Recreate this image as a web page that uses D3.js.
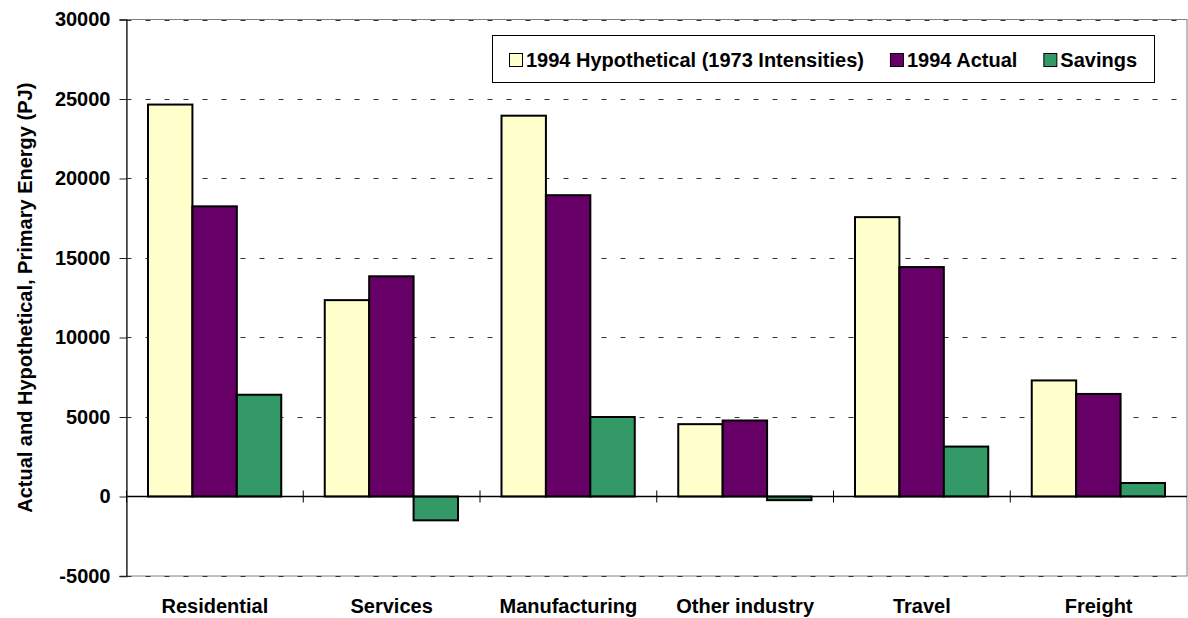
<!DOCTYPE html>
<html>
<head>
<meta charset="utf-8">
<script src="https://cdn.jsdelivr.net/npm/d3@7"></script>
<style>
  body { margin: 0; background: #fff; }
  text { font-family: "Liberation Sans", Arial, sans-serif; font-weight: bold; fill: #000; }
</style>
</head>
<body>
<div id="chart"></div>
<script>
// data (PJ)
const categories = ["Residential", "Services", "Manufacturing", "Other industry", "Travel", "Freight"];
const seriesNames = ["1994 Hypothetical (1973 Intensities)", "1994 Actual", "Savings"];
const hypothetical = [24650, 12350, 23950, 4550, 17570, 7300];
const actual = [18250, 13850, 18950, 4780, 14430, 6450];
const savings = [6400, -1500, 5000, -230, 3140, 850];
const yTicks = [-5000, 0, 5000, 10000, 15000, 20000, 25000, 30000];

const colors = ["#FFFFCC", "#660066", "#339966"];
const W = 1188, H = 618;
const plot = {left: 126.5, right: 1187, top: 19.5, bottom: 576};

const svg = d3.select("#chart").append("svg")
  .attr("width", W).attr("height", H);

const x0 = d3.scaleBand().domain(categories).range([plot.left, plot.right]);
const x1 = d3.scaleBand().domain(seriesNames).range([21.5, x0.bandwidth() - 22]);
const y = d3.scaleLinear().domain([-5000, 30000]).range([plot.bottom, plot.top]);

// plot area frame
svg.append("rect")
  .attr("x", plot.left).attr("y", plot.top)
  .attr("width", plot.right - plot.left).attr("height", plot.bottom - plot.top)
  .attr("fill", "none").attr("stroke", "#808080").attr("stroke-width", 1);

// dashed gridlines
svg.append("g")
  .selectAll("line")
  .data(yTicks.filter(d => d !== 0))
  .enter().append("line")
    .attr("x1", plot.left).attr("x2", plot.right)
    .attr("y1", d => Math.round(y(d)) + 0.5).attr("y2", d => Math.round(y(d)) + 0.5)
    .attr("stroke", "#333").attr("stroke-width", 1)
    .attr("stroke-dasharray", "5,14");

// y axis
const yAxis = svg.append("g")
  .attr("transform", "translate(" + plot.left + ",0)")
  .call(d3.axisLeft(y).tickValues(yTicks).tickSize(7).tickPadding(9).tickFormat(d => String(d)));
yAxis.select(".domain").attr("stroke", "#222").attr("stroke-width", 1.3);
yAxis.selectAll(".tick line").attr("stroke", "#222");
yAxis.selectAll("text").attr("font-size", 20).attr("fill", "#000")
  .style("font-family", "'Liberation Sans', Arial, sans-serif").style("font-weight", "bold");

// bars
const series = [hypothetical, actual, savings];
const groups = svg.append("g")
  .selectAll("g")
  .data(categories)
  .enter().append("g")
    .attr("transform", d => "translate(" + x0(d) + ",0)");

groups.selectAll("rect")
  .data((c, i) => series.map((s, k) => ({name: seriesNames[k], value: s[i], k: k})))
  .enter().append("rect")
    .attr("x", d => x1(d.name))
    .attr("width", x1.bandwidth())
    .attr("y", d => y(Math.max(0, d.value)))
    .attr("height", d => Math.abs(y(d.value) - y(0)))
    .attr("fill", d => colors[d.k])
    .attr("stroke", "#000").attr("stroke-width", 2);

// zero line with category separator ticks
svg.append("line")
  .attr("x1", plot.left).attr("x2", plot.right)
  .attr("y1", y(0)).attr("y2", y(0))
  .attr("stroke", "#000").attr("stroke-width", 1.3);
svg.append("g")
  .selectAll("line")
  .data(categories)
  .enter().append("line")
    .attr("x1", d => x0(d)).attr("x2", d => x0(d))
    .attr("y1", y(0) - 6).attr("y2", y(0) + 6)
    .attr("stroke", "#000").attr("stroke-width", 1);

// category labels
svg.append("g")
  .selectAll("text")
  .data(categories)
  .enter().append("text")
    .attr("x", d => x0(d) + x0.bandwidth() / 2)
    .attr("y", 613)
    .attr("text-anchor", "middle")
    .attr("font-size", 20)
    .text(d => d);

// y axis title
svg.append("text")
  .attr("transform", "translate(32," + ((plot.top + plot.bottom) / 2) + ") rotate(-90)")
  .attr("text-anchor", "middle")
  .attr("font-size", 20)
  .text("Actual and Hypothetical, Primary Energy (PJ)");

// legend
const legend = svg.append("g");
legend.append("rect")
  .attr("x", 492.5).attr("y", 35.5).attr("width", 662).attr("height", 47)
  .attr("fill", "#fff").attr("stroke", "#000").attr("stroke-width", 1);
let lx = 509;
seriesNames.forEach(function (name, k) {
  legend.append("rect")
    .attr("x", lx + 0.5).attr("y", 53.5).attr("width", 13).attr("height", 13)
    .attr("fill", colors[k]).attr("stroke", "#000").attr("stroke-width", 1);
  const t = legend.append("text")
    .attr("x", lx + 17).attr("y", 67)
    .attr("font-size", 20)
    .text(name);
  lx = lx + 17 + t.node().getComputedTextLength() + 26;
});
</script>
</body>
</html>
